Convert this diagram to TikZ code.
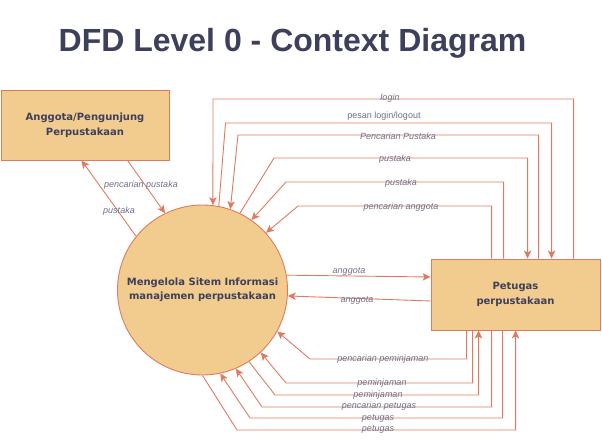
\documentclass[tikz,border=0pt]{standalone}
\usepackage{fontspec}
\setmainfont{Liberation Sans}
\newfontfamily\boxfont{DejaVu Sans}
\usetikzlibrary{arrows.meta}
\definecolor{terra}{HTML}{E07A5F}
\definecolor{sand}{HTML}{F2CC8F}
\definecolor{navy}{HTML}{3D405B}
\definecolor{lbl}{HTML}{6E7088}
\begin{document}
\begin{tikzpicture}[x=1pt,y=-1pt,
  flow/.style={draw=terra,line width=0.9pt,-{Stealth[length=8pt,width=7.5pt,inset=2pt]}},
  entity/.style={draw=terra,fill=sand,line width=0.9pt,minimum width=168pt,minimum height=70pt,align=center,inner sep=0pt,font=\boxfont\bfseries\fontsize{10}{14.5}\selectfont,text=navy},
  process/.style={circle,draw=terra,fill=sand,line width=0.9pt,minimum size=170pt,inner sep=0pt,align=center,font=\boxfont\bfseries\fontsize{10}{14.5}\selectfont,text=navy},
  lab/.style={font=\itshape\fontsize{9}{10}\selectfont,text=lbl,inner sep=0pt,yshift=-1.5pt},
  labup/.style={font=\fontsize{9}{10}\selectfont,text=lbl,inner sep=0pt,yshift=-1.5pt},
]
\useasboundingbox (0,0) rectangle (602,447);

\node[font=\bfseries\fontsize{32}{36}\selectfont,text=navy,anchor=base] (title) at (292.5,51.5) {DFD Level 0 - Context Diagram};

\node[entity] (ang) at (85,125) {Anggota/Pengunjung\\Perpustakaan};
\node[entity,minimum width=169pt,minimum height=71pt] (pet) at (515.5,294.5) {Petugas\\perpustakaan};
\node[process] (proc) at (202.5,290) {Mengelola Sitem Informasi\\manajemen perpustakaan};

% Anggota <-> process
\draw[flow] ([xshift=127pt]ang.south west) -- (proc.116);
\draw[flow] (proc.141.4) -- ([xshift=81pt]ang.south west);
\node[lab] (lpp) at (141,184) {pencarian pustaka};
\node[lab] (lpu) at (119,210) {pustaka};

% top flows
\draw[flow] ([xshift=143pt]pet.north west) |- (213,99) -- (proc.83);
\draw[flow] (proc.79.5) -- (225.5,123) -| ([xshift=121pt]pet.north west);
\draw[flow] ([xshift=108pt]pet.north west) |- (238,135) -- (proc.71);
\draw[flow] (proc.64.6) -- (274,158) -| ([xshift=97pt]pet.north west);
\draw[flow] ([xshift=73pt]pet.north west) |- (286,182) -- (proc.55.5);
\draw[flow] ([xshift=61pt]pet.north west) |- (298,206) -- (proc.42.4);

\node[lab] (t1) at (390,97) {login};
\node[labup] (t2) at (384,115) {pesan login/logout};
\node[lab] (t3) at (398,135) {Pencarian Pustaka};
\node[lab] (t4) at (395,158) {pustaka};
\node[lab] (t5) at (401,182) {pustaka};
\node[lab] (t6) at (401,206) {pencarian anggota};

% middle flows
\draw[flow] (proc.10.8) -- ([yshift=17.5pt]pet.west);
\draw[flow] ([yshift=-6.5pt]pet.west) -- (proc.-4);
\node[lab] (m1) at (349,270) {anggota};
\node[lab] (m2) at (357,299) {anggota};

% bottom flows
\draw[flow] ([xshift=36pt]pet.south west) |- (310,359) -- (proc.-29);
\draw[flow] ([xshift=42pt]pet.south west) |- (286,383) -- (proc.-47);
\draw[flow] (proc.-57.7) -- (275,395) -| ([xshift=48pt]pet.south west);
\draw[flow] ([xshift=61pt]pet.south west) |- (262,407) -- (proc.-67.3);
\draw[flow] ([xshift=72pt]pet.south west) |- (250,418) -- (proc.-78.8);
\draw[flow] (proc.-90) -- (237,430) -| ([xshift=85pt]pet.south west);

\node[lab] (b1) at (383,358) {pencarian peminjaman};
\node[lab] (b2) at (382,382) {peminjaman};
\node[lab] (b3) at (378,394) {peminjaman};
\node[lab] (b4) at (379,405) {pencarian petugas};
\node[lab] (b5) at (378,417) {petugas};
\node[lab] (b6) at (378,428) {petugas};
\end{tikzpicture}
\end{document}
